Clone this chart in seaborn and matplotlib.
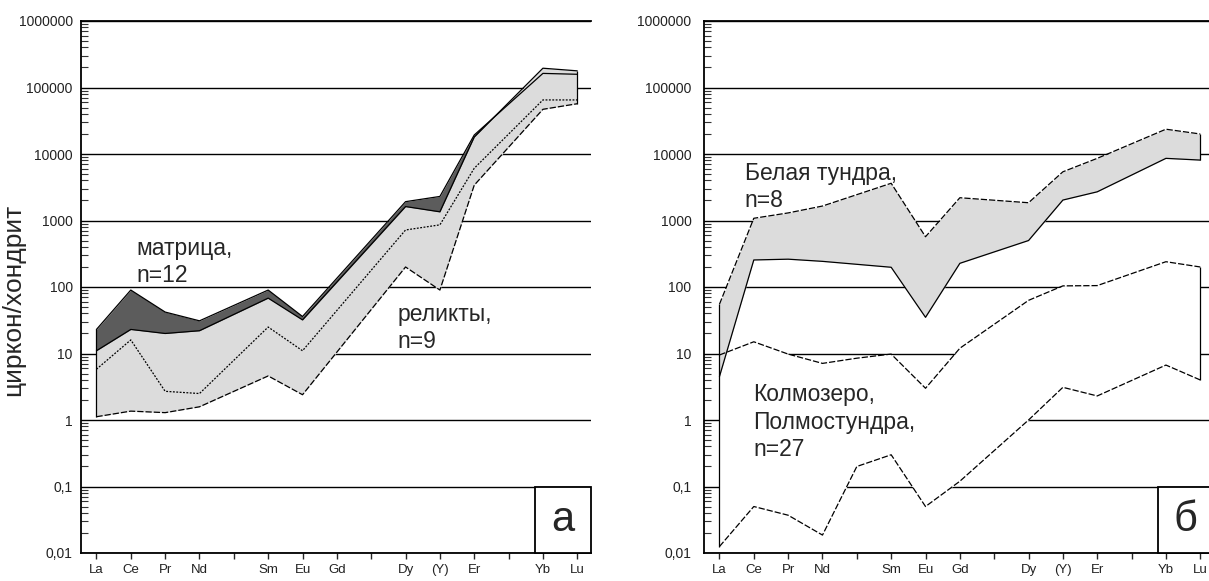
import matplotlib
matplotlib.use("Agg")
import pandas as pd
import matplotlib.pyplot as plt
from matplotlib.patches import Rectangle
from matplotlib.ticker import FixedLocator, FixedFormatter, LogLocator, NullFormatter
import seaborn as sns

# REE order on the x axis (Y is placed in the Ho slot), blank ticks are unlabelled
ree_order = ['La', 'Ce', 'Pr', 'Nd', 'Pm', 'Sm', 'Eu', 'Gd', 'Tb', 'Dy', '(Y)', 'Er', 'Tm', 'Yb', 'Lu']
ree_ticks = ['La', 'Ce', 'Pr', 'Nd', '', 'Sm', 'Eu', 'Gd', '', 'Dy', '(Y)', 'Er', '', 'Yb', 'Lu']
y_ticks = [0.01, 0.1, 1, 10, 100, 1000, 10000, 100000, 1000000]
y_tick_labels = ['0,01', '0,1', '1', '10', '100', '1000', '10000', '100000', '1000000']

# panel a: matrix (n=12) and relics (n=9)
a_elem = ['La', 'Ce', 'Pr', 'Nd', 'Sm', 'Eu', 'Dy', '(Y)', 'Er', 'Yb', 'Lu']
matrix_upper = [23, 90, 42, 31, 90, 36, 1920, 2300, 19300, 163000, 158000]
matrix_lower = [5.8, 16, 2.7, 2.5, 25, 11, 720, 860, 6100, 65000, 65000]
relic_upper = [11, 23, 20, 22, 68, 32, 1620, 1350, 18000, 195000, 178000]
relic_lower = [1.12, 1.36, 1.29, 1.58, 4.6, 2.4, 200, 90, 3400, 47000, 57000]

# panel b: Белая тундра (n=8) and Колмозеро, Полмостундра (n=27)
bt_elem = ['La', 'Ce', 'Pr', 'Nd', 'Sm', 'Eu', 'Gd', 'Dy', '(Y)', 'Er', 'Yb', 'Lu']
bt_upper = [55, 1080, 1300, 1650, 3630, 570, 2200, 1850, 5400, 8600, 23600, 20000]
bt_lower = [4.5, 255, 262, 243, 198, 35, 227, 500, 2030, 2700, 8600, 8100]
km_elem = ['La', 'Ce', 'Pr', 'Nd', 'Pm', 'Sm', 'Eu', 'Gd', 'Dy', '(Y)', 'Er', 'Yb', 'Lu']
km_upper = [9.5, 15, 9.8, 7.1, 8.5, 9.8, 3.0, 12, 63, 104, 105, 240, 200]
km_lower = [0.0125, 0.05, 0.037, 0.0186, 0.2, 0.30, 0.05, 0.12, 1.0, 3.1, 2.3, 6.7, 4.0]

DARK = '#5c5c5c'
LIGHT = '#dcdcdc'
DASH = (0, (5, 1.6))
DOT = (0, (1.5, 1.2))
X_LEFT, X_RIGHT = -0.45, 14.4


def positions(elems):
    return [ree_order.index(e) for e in elems]


def boundary(ax, elems, values, ls='-'):
    df = pd.DataFrame({'pos': positions(elems), 'value': values})
    sns.lineplot(data=df, x='pos', y='value', ax=ax, color='black', lw=0.9,
                 linestyle=ls, estimator=None, sort=False, zorder=5)


def style_axis(ax, box_label, ypad):
    ax.set_yscale('log')
    ax.set_ylim(0.01, 1e6)
    ax.set_xlim(X_LEFT, X_RIGHT)
    ax.set_axisbelow(True)
    ax.yaxis.set_major_locator(FixedLocator(y_ticks))
    ax.yaxis.set_major_formatter(FixedFormatter(y_tick_labels))
    ax.yaxis.set_minor_locator(LogLocator(base=10, subs=range(2, 10), numticks=20))
    ax.yaxis.set_minor_formatter(NullFormatter())
    ax.xaxis.set_major_locator(FixedLocator(range(len(ree_ticks))))
    ax.xaxis.set_major_formatter(FixedFormatter(ree_ticks))
    ax.tick_params(axis='y', which='major', length=0, pad=ypad, labelsize=10, labelcolor='#222222')
    ax.tick_params(axis='y', which='minor', direction='in', length=5, width=0.8, color='#333333', left=True)
    ax.tick_params(axis='x', which='major', direction='out', length=4, width=1.0, pad=4,
                   labelsize=9.5, labelcolor='#222222', bottom=True)
    ax.grid(axis='y', which='major', color='black', lw=1.0)
    ax.grid(axis='x', visible=False)
    for side in ['left', 'bottom', 'top']:
        ax.spines[side].set_visible(True)
        ax.spines[side].set_color('black')
        ax.spines[side].set_linewidth(1.3)
    ax.spines['right'].set_visible(False)
    ax.set_xlabel('')
    ax.set_ylabel('')
    ax.add_patch(Rectangle((12.77, 0.01), X_RIGHT - 12.77, 0.09, facecolor='white', edgecolor='black',
                           lw=1.3, zorder=6, clip_on=False))
    ax.text(13.58, 0.031, box_label, ha='center', va='center', fontsize=30, zorder=7)


sns.set_theme(style='white')
plt.rcParams['font.family'] = ['Liberation Sans', 'DejaVu Sans']

fig = plt.figure(figsize=(12.09, 5.81), dpi=100)
ax_a = fig.add_axes([81 / 1209, 28 / 581, 510 / 1209, 532 / 581])
ax_b = fig.add_axes([704 / 1209, 28 / 581, 510 / 1209, 532 / 581])

# panel a
pa = positions(a_elem)
ax_a.fill_between(pa, matrix_lower, matrix_upper, color=DARK, lw=0, zorder=2)
ax_a.fill_between(pa, relic_lower, relic_upper, color=LIGHT, lw=0, zorder=3)
boundary(ax_a, a_elem, matrix_upper)
boundary(ax_a, a_elem, relic_upper)
boundary(ax_a, a_elem, matrix_lower, DOT)
boundary(ax_a, a_elem, relic_lower, DASH)
ax_a.vlines([pa[0], pa[-1]], [relic_lower[0], relic_lower[-1]], [matrix_upper[0], relic_upper[-1]],
            color='black', lw=0.9, zorder=5)
style_axis(ax_a, 'а', 6)
ax_a.text(1.16, 238, 'матрица,\nn=12', fontsize=16.5, va='center', ha='left', linespacing=1.25)
ax_a.text(8.76, 24, 'реликты,\nn=9', fontsize=16.5, va='center', ha='left', linespacing=1.25)
ax_a.set_ylabel('циркон/хондрит', fontsize=19)
ax_a.yaxis.set_label_coords(-0.11, 0.476)

# panel b
pk = positions(km_elem)
pb = positions(bt_elem)
ax_b.fill_between(pk, km_lower, km_upper, color='white', lw=0, zorder=2)
ax_b.fill_between(pb, bt_lower, bt_upper, color=LIGHT, lw=0, zorder=3)
boundary(ax_b, km_elem, km_upper, DASH)
boundary(ax_b, km_elem, km_lower, DASH)
boundary(ax_b, bt_elem, bt_upper, DASH)
boundary(ax_b, bt_elem, bt_lower)
ax_b.vlines([pk[0], pb[-1], pk[-1]], [km_lower[0], bt_lower[-1], km_lower[-1]],
            [bt_upper[0], bt_upper[-1], km_upper[-1]], color='black', lw=0.9, zorder=5)
style_axis(ax_b, 'б', 9)
ax_b.text(0.73, 3190, 'Белая тундра,\nn=8', fontsize=16.5, va='center', ha='left', linespacing=1.25)
ax_b.text(0.98, 0.93, 'Колмозеро,\nПолмостундра,\nn=27', fontsize=16.5, va='center', ha='left',
          linespacing=1.25)

fig.savefig('out.png', dpi=100)
